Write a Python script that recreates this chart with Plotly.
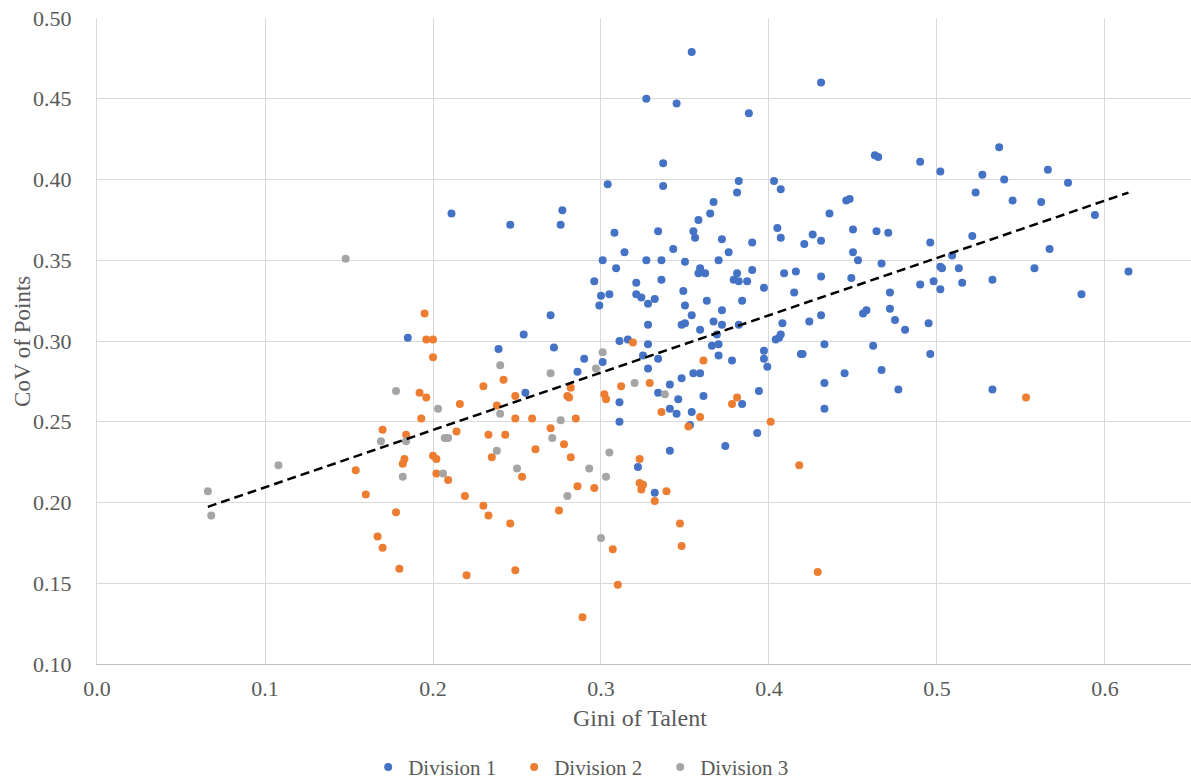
import numpy as np
import plotly.graph_objects as go

# Division 1
div1_gini = [0.185, 0.211, 0.246, 0.239, 0.254, 0.270, 0.272, 0.255, 0.277, 0.276,
             0.286, 0.290, 0.296, 0.300, 0.305, 0.299, 0.321, 0.321, 0.301, 0.311,
             0.316, 0.311, 0.311, 0.322, 0.354, 0.327, 0.345, 0.388, 0.337, 0.304,
             0.337, 0.382, 0.381, 0.403, 0.407, 0.367, 0.365, 0.358, 0.308, 0.334,
             0.355, 0.356, 0.405, 0.407, 0.372, 0.390, 0.343, 0.314, 0.376, 0.301,
             0.327, 0.336, 0.350, 0.370, 0.309, 0.358, 0.359, 0.362, 0.381, 0.379,
             0.382, 0.387, 0.390, 0.409, 0.416, 0.336, 0.397, 0.415, 0.324, 0.332,
             0.328, 0.349, 0.350, 0.363, 0.384, 0.372, 0.354, 0.328, 0.348, 0.350,
             0.359, 0.367, 0.372, 0.382, 0.408, 0.404, 0.406, 0.407, 0.369, 0.366,
             0.370, 0.370, 0.378, 0.328, 0.325, 0.334, 0.328, 0.355, 0.359, 0.348,
             0.341, 0.397, 0.397, 0.399, 0.419, 0.394, 0.361, 0.334, 0.346, 0.341,
             0.345, 0.354, 0.384, 0.353, 0.393, 0.374, 0.341, 0.332, 0.433, 0.431,
             0.463, 0.465, 0.490, 0.502, 0.537, 0.527, 0.540, 0.523, 0.545, 0.446,
             0.448, 0.436, 0.450, 0.464, 0.471, 0.426, 0.421, 0.431, 0.450, 0.453,
             0.467, 0.496, 0.521, 0.509, 0.502, 0.503, 0.513, 0.431, 0.449, 0.533,
             0.490, 0.498, 0.502, 0.515, 0.472, 0.424, 0.431, 0.456, 0.458, 0.472,
             0.475, 0.481, 0.495, 0.420, 0.433, 0.462, 0.496, 0.445, 0.467, 0.433,
             0.477, 0.533, 0.566, 0.578, 0.562, 0.594, 0.567, 0.558, 0.586, 0.614]
div1_cov = [0.302, 0.379, 0.372, 0.295, 0.304, 0.316, 0.296, 0.268, 0.381, 0.372,
            0.281, 0.289, 0.337, 0.328, 0.329, 0.322, 0.336, 0.329, 0.287, 0.300,
            0.301, 0.262, 0.250, 0.222, 0.479, 0.450, 0.447, 0.441, 0.410, 0.397,
            0.396, 0.399, 0.392, 0.399, 0.394, 0.386, 0.379, 0.375, 0.367, 0.368,
            0.368, 0.364, 0.370, 0.364, 0.363, 0.361, 0.357, 0.355, 0.355, 0.350,
            0.350, 0.350, 0.349, 0.350, 0.345, 0.342, 0.345, 0.342, 0.342, 0.338,
            0.337, 0.337, 0.344, 0.342, 0.343, 0.338, 0.333, 0.330, 0.327, 0.326,
            0.323, 0.331, 0.322, 0.325, 0.325, 0.319, 0.316, 0.310, 0.310, 0.311,
            0.307, 0.312, 0.310, 0.310, 0.311, 0.301, 0.302, 0.304, 0.304, 0.297,
            0.298, 0.291, 0.288, 0.298, 0.291, 0.289, 0.283, 0.280, 0.280, 0.277,
            0.273, 0.294, 0.289, 0.284, 0.292, 0.269, 0.266, 0.268, 0.264, 0.258,
            0.255, 0.256, 0.261, 0.248, 0.243, 0.235, 0.232, 0.206, 0.258, 0.460,
            0.415, 0.414, 0.411, 0.405, 0.420, 0.403, 0.400, 0.392, 0.387, 0.387,
            0.388, 0.379, 0.369, 0.368, 0.367, 0.366, 0.360, 0.362, 0.355, 0.350,
            0.348, 0.361, 0.365, 0.353, 0.346, 0.345, 0.345, 0.340, 0.339, 0.338,
            0.335, 0.337, 0.332, 0.336, 0.330, 0.312, 0.316, 0.317, 0.319, 0.320,
            0.313, 0.307, 0.311, 0.292, 0.298, 0.297, 0.292, 0.280, 0.282, 0.274,
            0.270, 0.270, 0.406, 0.398, 0.386, 0.378, 0.357, 0.345, 0.329, 0.343]

# Division 2
div2_gini = [0.154, 0.160, 0.167, 0.170, 0.178, 0.180, 0.170, 0.184, 0.183, 0.182,
             0.195, 0.196, 0.200, 0.200, 0.192, 0.196, 0.193, 0.200, 0.202, 0.202,
             0.209, 0.216, 0.214, 0.219, 0.220, 0.230, 0.242, 0.238, 0.233, 0.235,
             0.230, 0.233, 0.243, 0.249, 0.249, 0.259, 0.246, 0.249, 0.253, 0.261,
             0.270, 0.278, 0.282, 0.275, 0.282, 0.280, 0.281, 0.285, 0.286, 0.296,
             0.289, 0.302, 0.303, 0.312, 0.319, 0.307, 0.310, 0.323, 0.323, 0.325,
             0.324, 0.329, 0.332, 0.339, 0.336, 0.347, 0.348, 0.352, 0.359, 0.361,
             0.378, 0.381, 0.401, 0.418, 0.429, 0.553]
div2_cov = [0.220, 0.205, 0.179, 0.172, 0.194, 0.159, 0.245, 0.242, 0.227, 0.224,
            0.317, 0.301, 0.301, 0.290, 0.268, 0.265, 0.252, 0.229, 0.227, 0.218,
            0.214, 0.261, 0.244, 0.204, 0.155, 0.272, 0.276, 0.260, 0.242, 0.228,
            0.198, 0.192, 0.242, 0.266, 0.252, 0.252, 0.187, 0.158, 0.216, 0.233,
            0.246, 0.236, 0.228, 0.195, 0.271, 0.266, 0.265, 0.252, 0.210, 0.209,
            0.129, 0.267, 0.264, 0.272, 0.299, 0.171, 0.149, 0.227, 0.212, 0.211,
            0.208, 0.274, 0.201, 0.207, 0.256, 0.187, 0.173, 0.247, 0.253, 0.288,
            0.261, 0.265, 0.250, 0.223, 0.157, 0.265]

# Division 3
div3_gini = [0.066, 0.068, 0.108, 0.148, 0.178, 0.169, 0.184, 0.182, 0.203, 0.207,
             0.209, 0.206, 0.240, 0.240, 0.238, 0.250, 0.270, 0.276, 0.271, 0.293,
             0.303, 0.305, 0.301, 0.297, 0.320, 0.338, 0.280, 0.300]
div3_cov = [0.207, 0.192, 0.223, 0.351, 0.269, 0.238, 0.238, 0.216, 0.258, 0.240,
            0.240, 0.218, 0.285, 0.255, 0.232, 0.221, 0.280, 0.251, 0.240, 0.221,
            0.216, 0.231, 0.293, 0.283, 0.274, 0.267, 0.204, 0.178]

x_ticks = [0.0, 0.1, 0.2, 0.3, 0.4, 0.5, 0.6]
y_ticks = [0.10, 0.15, 0.20, 0.25, 0.30, 0.35, 0.40, 0.45, 0.50]

FONT = "Liberation Serif"
TEXT = "#595959"
GRID = "#D9D9D9"

fig = go.Figure()
series = [
    ("Division 1", div1_gini, div1_cov, "#4472C4"),
    ("Division 2", div2_gini, div2_cov, "#ED7D31"),
    ("Division 3", div3_gini, div3_cov, "#A5A5A5"),
]
for name, xs, ys, color in series:
    fig.add_trace(go.Scatter(
        x=xs, y=ys, mode="markers", name=name,
        marker=dict(size=8, color=color, line=dict(width=0)),
    ))

# Linear trend over all divisions, spanning the data range
all_x = np.array(div1_gini + div2_gini + div3_gini)
all_y = np.array(div1_cov + div2_cov + div3_cov)
slope, intercept = np.polyfit(all_x, all_y, 1)
tx = np.array([all_x.min(), all_x.max()])
fig.add_trace(go.Scatter(
    x=tx, y=slope * tx + intercept, mode="lines", showlegend=False,
    line=dict(color="black", width=2.5, dash="9px,5px"), hoverinfo="skip",
))

fig.update_layout(
    width=1191, height=783,
    margin=dict(l=97, r=0, t=18, b=119),
    paper_bgcolor="white", plot_bgcolor="white",
    font=dict(family=FONT, color=TEXT, size=22),
    showlegend=True,
    legend=dict(
        orientation="h", xref="container", yref="container",
        x=0.493, xanchor="center", y=0.02, yanchor="middle",
        font=dict(size=21, color=TEXT), itemsizing="trace", itemwidth=30,
        entrywidth=101, entrywidthmode="pixels",
    ),
    xaxis=dict(
        range=[0, 0.6512], tickvals=x_ticks, ticktext=[f"{v:.1f}" for v in x_ticks],
        showgrid=True, gridcolor=GRID, gridwidth=1, zeroline=False,
        showline=True, linecolor="#BFBFBF", linewidth=1,
        ticks="", ticklabelstandoff=5, automargin=False,
    ),
    yaxis=dict(
        range=[0.10, 0.50], tickvals=y_ticks, ticktext=[f"{v:.2f}" for v in y_ticks],
        showgrid=True, gridcolor=GRID, gridwidth=1, zeroline=False,
        showline=True, linecolor=GRID, linewidth=1,
        ticks="", ticklabelstandoff=20, automargin=False,
    ),
    annotations=[
        dict(text="Gini of Talent", xref="paper", yref="paper", x=0.4963, y=-0.0836,
             xanchor="center", yanchor="middle", showarrow=False,
             font=dict(size=24, color=TEXT)),
        dict(text="CoV of Points", xref="paper", yref="paper", x=-0.0686, y=0.5,
             xanchor="center", yanchor="middle", textangle=-90, showarrow=False,
             font=dict(size=23, color=TEXT)),
    ],
)

fig.write_html("out.html")
